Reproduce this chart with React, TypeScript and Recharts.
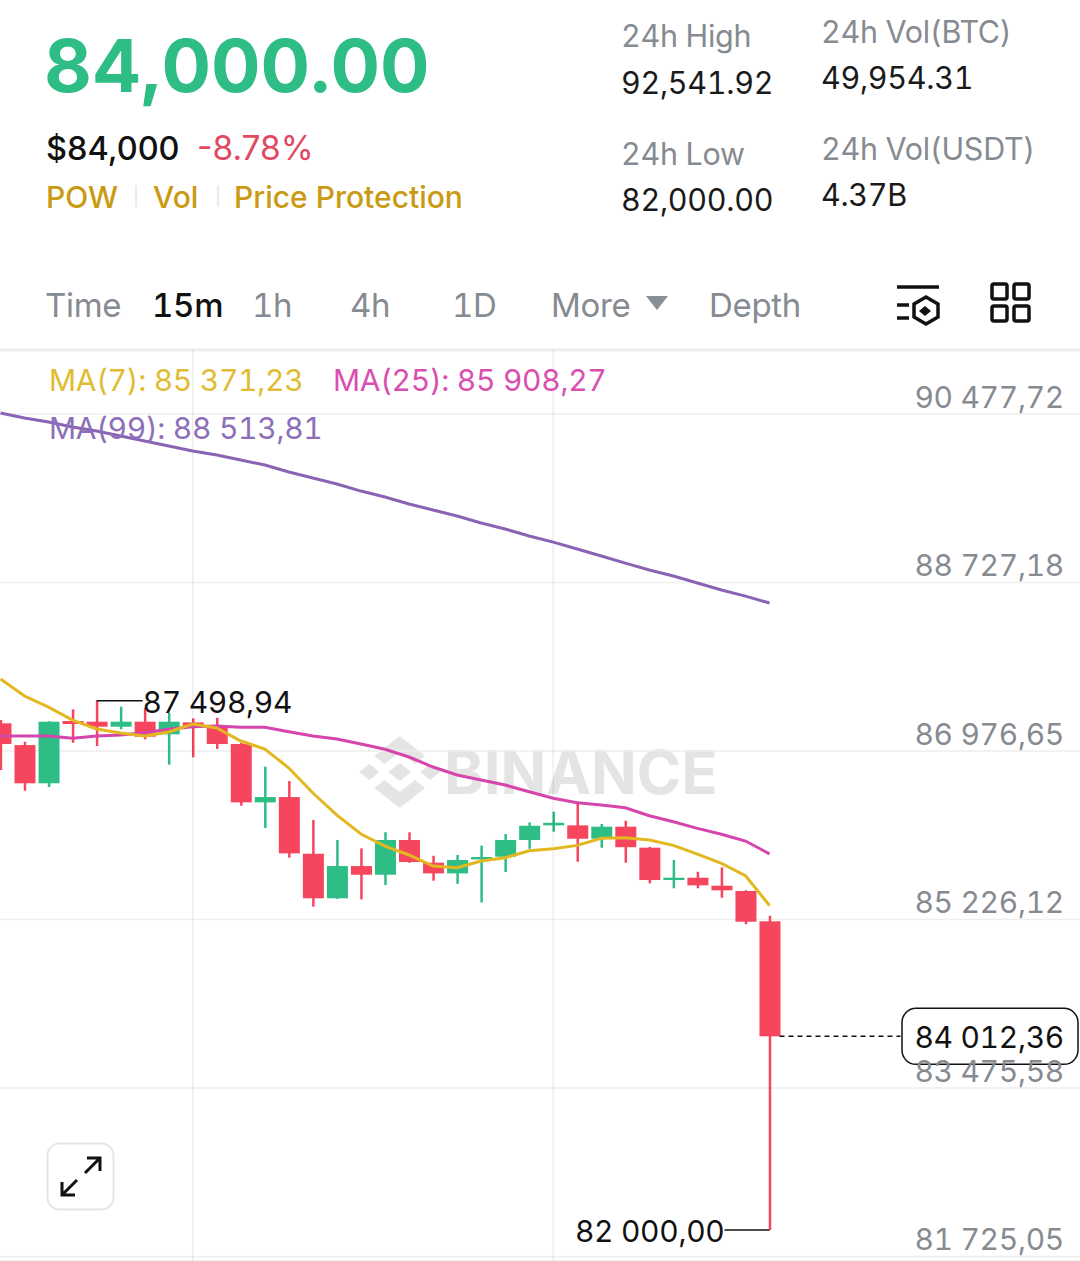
import {
  Bar,
  CartesianGrid,
  ComposedChart,
  Line,
  ReferenceDot,
  ReferenceLine,
  XAxis,
  YAxis,
} from 'recharts';

const UP = '#2EBD85';
const DOWN = '#F6465D';
const FONT = 'Inter, sans-serif';
const TNUM = { fontVariantNumeric: 'tabular-nums', letterSpacing: -0.3 };

const opens = [87264, 87038, 86641, 87288, 87281, 87229, 87281, 87150, 87274, 87246, 87049, 86443, 86498, 85909, 85446, 85781, 85691, 86052, 85816, 85705, 85850, 85878, 86052, 86204, 86204, 86065, 86190, 85972, 85636, 85660, 85577, 85522, 85207];
const closes = [87049, 86641, 87281, 87257, 87229, 87281, 87125, 87281, 87239, 87049, 86443, 86498, 85913, 85446, 85781, 85691, 86052, 85823, 85705, 85844, 85875, 86052, 86200, 86231, 86065, 86190, 85977, 85636, 85660, 85581, 85529, 85203, 84012.36];
const highs = [87298, 87073, 87285, 87409, 87498.94, 87436, 87423, 87374, 87316, 87322, 87060, 86813, 86664, 86259, 86052, 85965, 86132, 86132, 85888, 85896, 85993, 86114, 86235, 86346, 86450, 86218, 86252, 85980, 85844, 85722, 85768, 85530, 85265];
const lows = [86779, 86564, 86602, 87062, 87028, 87202, 87098, 86834, 86911, 86998, 86408, 86176, 85868, 85359, 85440, 85435, 85584, 85815, 85629, 85597, 85404, 85719, 85961, 86138, 85826, 85972, 85816, 85601, 85550, 85550, 85452, 85176, 82000];
const ma7 = [87724, 87548, 87433, 87298, 87205, 87163, 87132, 87174, 87257, 87215, 87080, 86997, 86800, 86540, 86311, 86114, 85989, 85896, 85781, 85764, 85833, 85868, 85940, 85961, 85996, 86069, 86075, 86052, 85996, 85906, 85809, 85681, 85371.23];
const ma25 = [87132, 87132, 87132, 87108, 87132, 87142, 87166, 87202, 87229, 87236, 87222, 87222, 87177, 87132, 87101, 87049, 86994, 86914, 86810, 86727, 86675, 86623, 86553, 86485, 86439, 86415, 86387, 86304, 86242, 86173, 86111, 86041, 85908.27];
const ma99 = [90488, 90436, 90394, 90342, 90301, 90249, 90197, 90145, 90093, 90051, 89999, 89947, 89875, 89812, 89750, 89677, 89615, 89542, 89480, 89418, 89345, 89283, 89210, 89147, 89075, 89002, 88929, 88857, 88794, 88722, 88649, 88586, 88513.81];

const priceTicks = [90477.72, 88727.18, 86976.65, 85226.12, 83475.58, 81725.05];
const priceTickLabels = ['90 477,72', '88 727,18', '86 976,65', '85 226,12', '83 475,58', '81 725,05'];
const timeTicks = [8, 23];
const tabs = ['Time', '15m', '1h', '4h', '1D', 'More', 'Depth'];

const Y_MAX = 91142.6;
const Y_MIN = 81678;

const rows = opens.map((open, i) => ({
  i,
  open,
  close: closes[i],
  high: highs[i],
  low: lows[i],
  range: [lows[i], highs[i]],
  ma7: ma7[i],
  ma25: ma25[i],
  ma99: ma99[i],
}));

/** Wick spans the bar's own low..high box, the body is placed inside it. */
function Candle(props: any) {
  const { x, y, width, height, payload } = props;
  const { open, close, high, low } = payload;
  const pxPerValue = height / (high - low);
  const bodyTop = y + (high - Math.max(open, close)) * pxPerValue;
  const bodyHeight = Math.max(Math.abs(open - close) * pxPerValue, 2);
  const color = close >= open ? UP : DOWN;
  const cx = x + width / 2;
  return (
    <g>
      <rect x={cx - 1.25} y={y} width={2.5} height={height} fill={color} />
      <rect x={x} y={bodyTop} width={width} height={bodyHeight} fill={color} />
    </g>
  );
}

function PriceTick({ y, payload }: any) {
  return (
    <text
      x={1064}
      y={y - 17}
      textAnchor="end"
      dominantBaseline="central"
      fontSize={30}
      fontFamily={FONT}
      fill="#868b91"
      style={TNUM}
    >
      {priceTickLabels[priceTicks.indexOf(payload.value)]}
    </text>
  );
}

function HighMark({ cx, cy }: any) {
  return (
    <g>
      <line x1={cx} x2={cx + 46} y1={cy} y2={cy} stroke="#111" strokeWidth={1.5} />
      <text x={cx + 46} y={cy + 1} dominantBaseline="central" fontSize={30} fontFamily={FONT} fill="#111" style={TNUM}>
        87 498,94
      </text>
    </g>
  );
}

function LowMark({ cx, cy }: any) {
  return (
    <g>
      <line x1={cx - 45} x2={cx} y1={cy} y2={cy} stroke="#111" strokeWidth={1.5} />
      <text x={cx - 45} y={cy + 1} textAnchor="end" dominantBaseline="central" fontSize={30} fontFamily={FONT} fill="#111" style={TNUM}>
        82 000,00
      </text>
    </g>
  );
}

function LastMark({ cx, cy }: any) {
  return (
    <g>
      <line x1={cx + 10} x2={cx + 131} y1={cy} y2={cy} stroke="#111" strokeWidth={1.5} strokeDasharray="5 4" />
      <rect x={902} y={cy - 28} width={176} height={56} rx={14} fill="#fff" stroke="#111" strokeWidth={1.5} />
      <text x={1064} y={cy + 1} textAnchor="end" dominantBaseline="central" fontSize={30} fontFamily={FONT} fill="#111" style={TNUM}>
        84 012,36
      </text>
    </g>
  );
}

function Txt({ x, y, size, color, weight, plain, children }: any) {
  return (
    <div
      style={{
        position: 'absolute',
        left: x,
        top: y,
        transform: 'translateY(-50%)',
        fontSize: size,
        color,
        fontWeight: weight ?? 400,
        fontFamily: FONT,
        whiteSpace: 'nowrap',
        lineHeight: 1,
        ...(plain ? {} : TNUM),
      }}
    >
      {children}
    </div>
  );
}

function Watermark() {
  return (
    <>
      <svg width={114} height={90} style={{ position: 'absolute', left: 344, top: 728 }} viewBox="0 0 90 90" preserveAspectRatio="none">
        <g fill="#e4e4e4">
          <path d="M44 8 L64 28 L56 36 L44 24 L32 36 L24 28 Z" />
          <path d="M44 80 L64 60 L56 52 L44 64 L32 52 L24 60 Z" />
          <path d="M12 44 L20 36 L28 44 L20 52 Z" />
          <path d="M68 36 L76 44 L68 52 L60 44 Z" />
          <path d="M44 35 L53 44 L44 53 L35 44 Z" />
        </g>
      </svg>
      <Txt x={444} y={772} size={60} color="#e4e4e4" weight={700} plain>
        BINANCE
      </Txt>
    </>
  );
}

function ToolIcons() {
  return (
    <svg width={1080} height={60} style={{ position: 'absolute', left: 0, top: 275 }}>
      <g fill="none" stroke="#111" strokeWidth={3.5}>
        <path d="M897 12 H939" />
        <path d="M897 30 H909 M897 43 H909" />
        <path d="M926 22 L938 29 V42 L926 49 L914 42 V29 Z" />
        <rect x={992} y={9} width={15} height={15} rx={2} />
        <rect x={1014} y={9} width={15} height={15} rx={2} />
        <rect x={992} y={31} width={15} height={15} rx={2} />
        <rect x={1014} y={31} width={15} height={15} rx={2} />
      </g>
      <path d="M925 31 L931 36 L925 41 L919 36 Z" fill="#111" />
      <path d="M646 21 H668 L657 35 Z" fill="#8a8f95" />
    </svg>
  );
}

function ExpandButton() {
  return (
    <svg width={70} height={70} style={{ position: 'absolute', left: 46, top: 1142 }}>
      <rect x={1.5} y={1.5} width={66} height={66} rx={12} fill="#fff" stroke="#e6e6e6" strokeWidth={2} />
      <g fill="none" stroke="#111" strokeWidth={3}>
        <path d="M16 53 L31 38 M16 40 V53 H29" />
        <path d="M54 16 L39 31 M41 16 H54 V29" />
      </g>
    </svg>
  );
}

export default function App() {
  const tabX = [45, 152, 252, 350, 452, 551, 709];
  return (
    <div style={{ position: 'absolute', left: 0, top: 0, width: 1080, height: 1261, background: '#fff', overflow: 'hidden' }}>
      <Txt x={44} y={66} size={73.5} color={UP} weight={700} plain>84,000.00</Txt>
      <Txt x={46} y={149} size={32.5} color="#111" weight={500} plain>$84,000</Txt>
      <Txt x={197} y={149} size={33.5} color="#E0495F" plain>-8.78%</Txt>
      <Txt x={46} y={197} size={30} color="#C99A12" weight={500} plain>POW</Txt>
      <Txt x={153} y={197} size={30} color="#C99A12" weight={500} plain>Vol</Txt>
      <Txt x={234} y={197} size={30} color="#C99A12" weight={500} plain>Price Protection</Txt>
      <Txt x={133} y={197} size={18} color="#e4e4e4">|</Txt>
      <Txt x={215} y={197} size={18} color="#e4e4e4">|</Txt>

      <Txt x={621} y={36} size={30.5} color="#868b91">24h High</Txt>
      <Txt x={621} y={83} size={30.5} color="#1a1a1a">92,541.92</Txt>
      <Txt x={621} y={154} size={30.5} color="#868b91">24h Low</Txt>
      <Txt x={621} y={200} size={30.5} color="#1a1a1a">82,000.00</Txt>
      <Txt x={821} y={32} size={30.5} color="#868b91">24h Vol(BTC)</Txt>
      <Txt x={821} y={78} size={30.5} color="#1a1a1a">49,954.31</Txt>
      <Txt x={821} y={149} size={30.5} color="#868b91">24h Vol(USDT)</Txt>
      <Txt x={821} y={195} size={30.5} color="#1a1a1a">4.37B</Txt>

      {tabs.map((t, i) => (
        <Txt key={t} x={tabX[i]} y={305} size={33} color={t === '15m' ? '#111' : '#868b91'} weight={t === '15m' ? 500 : 400}>
          {t}
        </Txt>
      ))}
      <ToolIcons />
      <Watermark />

      <div style={{ position: 'absolute', left: 0, top: 0 }}>
        <ComposedChart width={1080} height={1261} data={rows} margin={{ top: 350, right: 0, bottom: 0, left: 0 }}>
          <CartesianGrid stroke="#eeeeee" strokeWidth={1.5} vertical={false} />
          <XAxis
            dataKey="i"
            type="number"
            domain={[-0.02, 44.92]}
            ticks={timeTicks}
            interval={0}
            tick={false}
            tickLine={false}
            axisLine={false}
            height={1}
            mirror
            allowDataOverflow
          />
          <YAxis
            orientation="right"
            mirror
            width={1}
            type="number"
            domain={[Y_MIN, Y_MAX]}
            ticks={priceTicks}
            interval={0}
            tick={<PriceTick />}
            tickLine={false}
            axisLine={false}
            allowDataOverflow
          />
          <ReferenceLine y={Y_MAX} stroke="#eeeeee" strokeWidth={3} />
          {/* these paint over the candles, so keep them see-through */}
          {timeTicks.map((t) => (
            <ReferenceLine key={t} x={t} stroke="#000" strokeOpacity={0.07} strokeWidth={1.5} />
          ))}
          <Bar dataKey="range" barSize={21} shape={<Candle />} isAnimationActive={false} />
          <Line dataKey="ma99" type="linear" stroke="#8A63B5" strokeWidth={3} dot={false} activeDot={false} isAnimationActive={false} />
          <Line dataKey="ma25" type="linear" stroke="#D645AC" strokeWidth={3} dot={false} activeDot={false} isAnimationActive={false} />
          <Line dataKey="ma7" type="linear" stroke="#E3B71F" strokeWidth={3} dot={false} activeDot={false} isAnimationActive={false} />
          <ReferenceDot x={4} y={87498.94} r={0} shape={(p: any) => <HighMark {...p} />} />
          <ReferenceDot x={32} y={82000} r={0} shape={(p: any) => <LowMark {...p} />} />
          <ReferenceDot x={32} y={84012.36} r={0} shape={(p: any) => <LastMark {...p} />} />
        </ComposedChart>
      </div>

      <Txt x={49} y={380} size={30} color="#E0BC33">MA(7): 85 371,23</Txt>
      <Txt x={333} y={380} size={30} color="#D94FB0">MA(25): 85 908,27</Txt>
      <Txt x={49} y={428} size={30} color="#8C6FB8">MA(99): 88 513,81</Txt>
      <ExpandButton />
    </div>
  );
}
